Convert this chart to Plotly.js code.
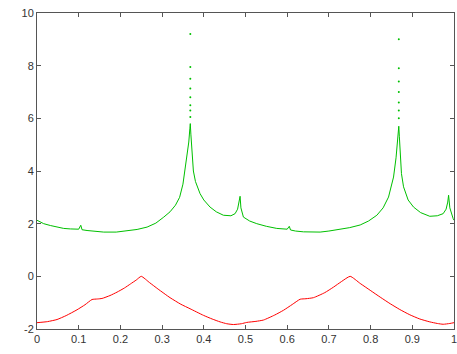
<!DOCTYPE html>
<html>
<head>
<meta charset="utf-8">
<script src="https://cdn.plot.ly/plotly-3.0.1.min.js"></script>
<style>html,body{margin:0;padding:0;background:#fff;}#chart{width:457px;height:354px;}</style>
</head>
<body>
<div id="chart"></div>
<script>
// Green series (upper curve)
const greenX = [0, 0.008, 0.016, 0.032, 0.048, 0.064, 0.08, 0.100, 0.105, 0.108, 0.12, 0.14, 0.16, 0.19, 0.216, 0.24, 0.264, 0.285, 0.304, 0.319, 0.332, 0.342, 0.350, 0.355, 0.361, 0.364, 0.3665, 0.3676, 0.369, 0.371, 0.375, 0.380, 0.391, 0.40, 0.415, 0.43, 0.447, 0.465, 0.475, 0.481, 0.485, 0.487, 0.489, 0.492, 0.495, 0.51, 0.527, 0.55, 0.575, 0.600, 0.605, 0.608, 0.62, 0.639, 0.66, 0.679, 0.70, 0.727, 0.75, 0.775, 0.795, 0.815, 0.83, 0.843, 0.85, 0.855, 0.861, 0.864, 0.8665, 0.8676, 0.869, 0.871, 0.874, 0.879, 0.89, 0.903, 0.92, 0.942, 0.96, 0.974, 0.981, 0.985, 0.987, 0.99, 0.994, 0.998, 1.0];
const greenY = [2.13, 2.06, 2.0, 1.93, 1.86, 1.82, 1.80, 1.79, 1.94, 1.77, 1.74, 1.70, 1.68, 1.68, 1.72, 1.78, 1.87, 2.02, 2.25, 2.45, 2.70, 3.0, 3.5, 4.03, 4.6, 5.1, 5.6, 5.8, 5.4, 4.8, 4.0, 3.6, 3.14, 2.9, 2.63, 2.45, 2.32, 2.30, 2.38, 2.55, 2.82, 3.04, 2.60, 2.38, 2.25, 2.10, 2.00, 1.90, 1.82, 1.79, 1.90, 1.76, 1.72, 1.69, 1.67, 1.68, 1.72, 1.79, 1.85, 1.95, 2.10, 2.32, 2.60, 3.01, 3.4, 3.77, 4.5, 5.0, 5.5, 5.7, 5.3, 4.7, 3.9, 3.4, 2.9, 2.63, 2.42, 2.28, 2.30, 2.38, 2.55, 2.82, 3.08, 2.60, 2.35, 2.19, 2.13];
// Sparse dots at the top of the two spikes
const spikeX = [0.3676, 0.3676, 0.3676, 0.3676, 0.3676, 0.3676, 0.3676, 0.3676, 0.8676, 0.8676, 0.8676, 0.8676, 0.8676, 0.8676, 0.8676];
const spikeY = [9.2, 7.95, 7.5, 7.13, 6.8, 6.5, 6.3, 6.05, 9.0, 7.9, 7.4, 7.0, 6.6, 6.3, 6.0];
// Red series (lower curve)
const redX = [0, 0.025, 0.048, 0.07, 0.096, 0.115, 0.132, 0.145, 0.156, 0.175, 0.192, 0.21, 0.224, 0.238, 0.25, 0.27, 0.29, 0.319, 0.345, 0.367, 0.399, 0.42, 0.439, 0.455, 0.471, 0.49, 0.503, 0.525, 0.543, 0.57, 0.591, 0.612, 0.631, 0.645, 0.663, 0.69, 0.711, 0.73, 0.751, 0.775, 0.799, 0.823, 0.847, 0.87, 0.894, 0.918, 0.942, 0.96, 0.974, 0.99, 1.0];
const redY = [-1.76, -1.72, -1.64, -1.49, -1.27, -1.08, -0.88, -0.86, -0.84, -0.73, -0.60, -0.44, -0.29, -0.14, 0.0, -0.24, -0.48, -0.81, -1.06, -1.23, -1.48, -1.62, -1.73, -1.80, -1.83, -1.80, -1.75, -1.71, -1.66, -1.47, -1.29, -1.07, -0.87, -0.85, -0.81, -0.62, -0.41, -0.20, 0.0, -0.27, -0.53, -0.79, -1.04, -1.26, -1.46, -1.62, -1.73, -1.79, -1.82, -1.79, -1.76];
const xTicks = [0, 0.1, 0.2, 0.3, 0.4, 0.5, 0.6, 0.7, 0.8, 0.9, 1];
const yTicks = [-2, 0, 2, 4, 6, 8, 10];

const traces = [
  {x: greenX, y: greenY, mode: 'lines', line: {color: '#00c000', width: 1}, hoverinfo: 'none'},
  {x: spikeX, y: spikeY, mode: 'markers', marker: {color: '#00c000', size: 2}, hoverinfo: 'none'},
  {x: redX, y: redY, mode: 'lines', line: {color: '#ff0000', width: 1, shape: 'spline', smoothing: 0.5}, hoverinfo: 'none'}
];
const axisCommon = {
  showgrid: false, zeroline: false, showline: true, linecolor: '#555', linewidth: 1,
  mirror: 'ticks', ticks: 'inside', ticklen: 4, tickcolor: '#555',
  ticklabeloverflow: 'allow',
  tickfont: {family: 'Liberation Sans, Arial, sans-serif', size: 11, color: '#333'}
};
const layout = {
  width: 457, height: 354,
  margin: {l: 37, r: 3, t: 13, b: 25},
  paper_bgcolor: '#fff', plot_bgcolor: '#fff',
  showlegend: false,
  xaxis: Object.assign({}, axisCommon, {range: [0, 1], tickvals: xTicks, ticktext: xTicks.map(String)}),
  yaxis: Object.assign({}, axisCommon, {range: [-2, 10], tickvals: yTicks, ticktext: yTicks.map(String)})
};
Plotly.newPlot('chart', traces, layout, {staticPlot: true});
</script>
</body>
</html>
